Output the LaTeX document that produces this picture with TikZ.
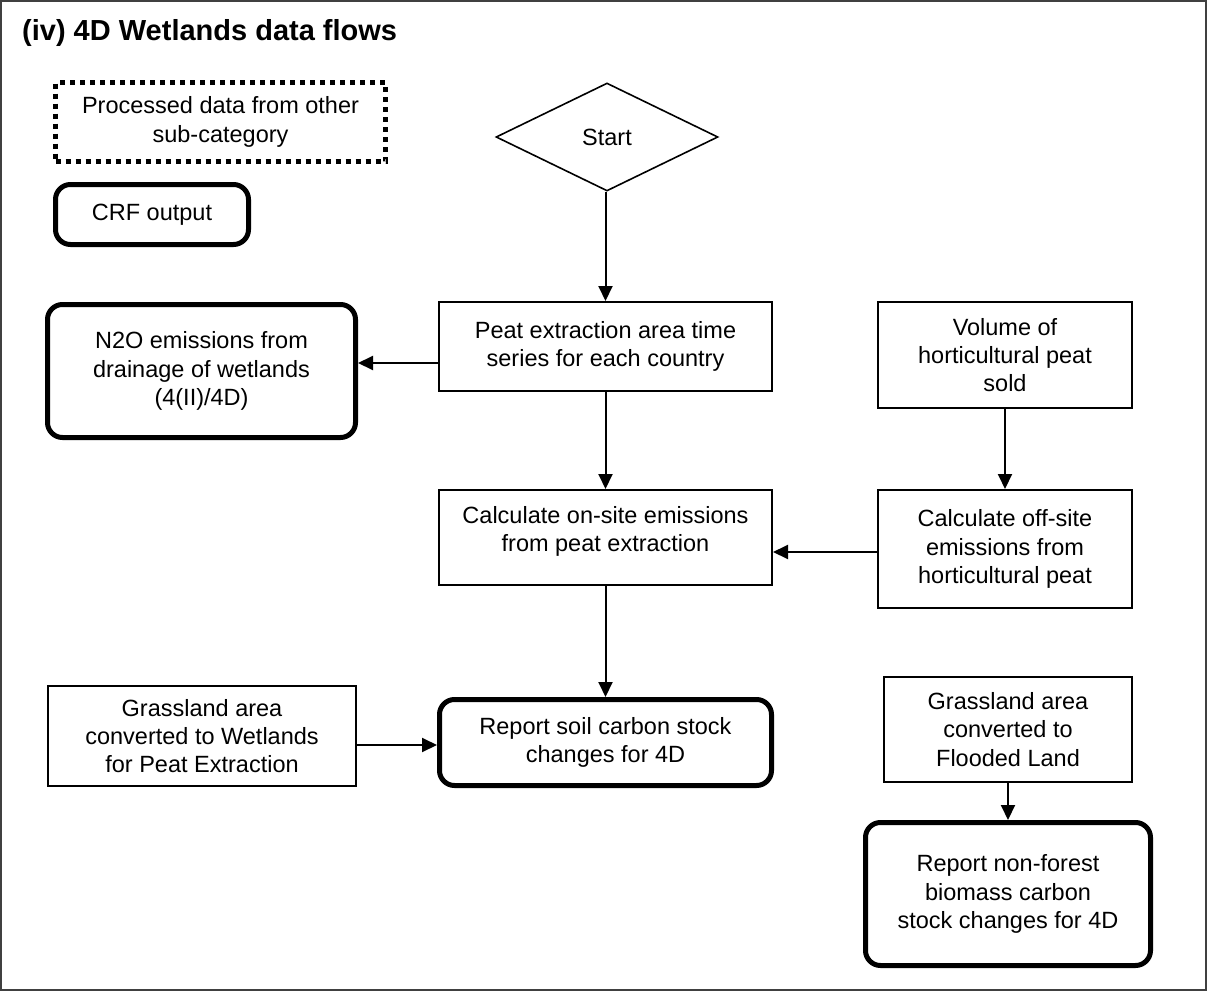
\documentclass[tikz,border=0pt]{standalone}
\usepackage{fontspec}
\setmainfont{Liberation Sans}
\usetikzlibrary{shapes.geometric,arrows.meta}
\begin{document}
\begin{tikzpicture}[x=1pt,y=-1pt,
  every node/.style={font=\fontsize{23.5}{28.3}\selectfont, align=center, inner sep=0pt},
  plainbox/.style={draw, line width=2pt, rectangle},
  outbox/.style={draw, line width=5pt, rectangle, rounded corners=15pt},
  dotbox/.style={draw, line width=4.5pt, dash pattern=on 5pt off 5pt, rectangle},
  startshape/.style={draw, line width=1.6pt, diamond},
  arr/.style={draw, line width=2pt, -{Triangle[length=15pt,width=14pt]}}
]
\useasboundingbox (0,0) rectangle (1208,993);
\draw[line width=1.5pt, black!75] (1,1) rectangle (1206,990);
\node[anchor=base west, font=\fontsize{29}{34}\selectfont\bfseries] (title) at (22,40) {(iv) 4D Wetlands data flows};

\node[dotbox, minimum width=330pt, minimum height=79pt] (proc) at (220.5,122) {Processed data from other\\sub-category};
\node[outbox, minimum width=193pt, minimum height=60pt] (crf) at (152,214.5) {CRF output};

\node[startshape, minimum width=222pt, minimum height=108pt] (start) at (607,137) {Start};

\node[plainbox, minimum width=333pt, minimum height=89pt] (peat) at (605.5,346.5) {Peat extraction area time\\series for each country};
\node[outbox, minimum width=308pt, minimum height=133pt] (n2o) at (201.5,371) {N2O emissions from\\drainage of wetlands\\(4(II)/4D)};
\node[plainbox, minimum width=254pt, minimum height=106pt] (vol) at (1005,355) {Volume of\\horticultural peat\\sold};
\node[plainbox, minimum width=333pt, minimum height=95pt] (onsite) at (605.5,537.5) {Calculate on-site emissions\\from peat extraction\\[-11pt]};
\node[plainbox, minimum width=254pt, minimum height=118pt] (offsite) at (1005,549) {Calculate off-site\\emissions from\\horticultural peat};
\node[plainbox, minimum width=308pt, minimum height=100pt] (grassw) at (202,736) {Grassland area\\converted to Wetlands\\for Peat Extraction};
\node[outbox, minimum width=332pt, minimum height=86pt] (soil) at (605.5,742.5) {Report soil carbon stock\\changes for 4D};
\node[plainbox, minimum width=248pt, minimum height=105pt] (grassf) at (1008,729.5) {Grassland area\\converted to\\Flooded Land};
\node[outbox, minimum width=285pt, minimum height=143pt] (nonfor) at (1008,894) {Report non-forest\\biomass carbon\\stock changes for 4D};

\draw[arr] (start.south -| peat.north) -- (peat.north);
\draw[arr] ([yshift=-16.5pt]peat.west) -- ([yshift=-16.5pt]peat.west -| n2o.east);
\draw[arr] (peat.south) -- (onsite.north);
\draw[arr] (vol.south) -- (offsite.north);
\draw[arr] ([yshift=-3pt]offsite.west) -- ([yshift=-3pt]offsite.west -| onsite.east);
\draw[arr] (onsite.south) -- (soil.north);
\draw[arr] ([yshift=-9pt]grassw.east) -- ([yshift=-9pt]grassw.east -| soil.west);
\draw[arr] (grassf.south) -- (nonfor.north);
\end{tikzpicture}
\end{document}
